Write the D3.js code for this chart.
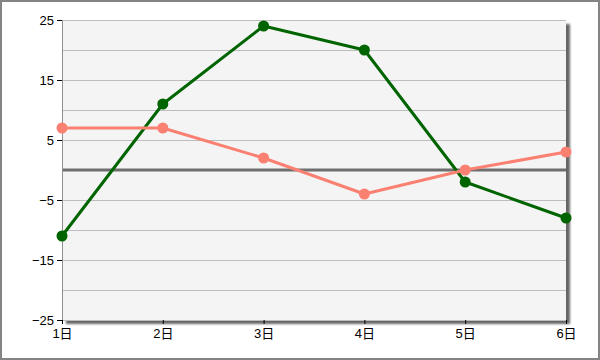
<!DOCTYPE html>
<html>
<head>
<meta charset="utf-8">
<script src="https://cdn.jsdelivr.net/npm/d3@7"></script>
<style>
  body { margin: 0; background: #fff; }
  svg { display: block; font-family: "Liberation Sans", Arial, sans-serif; }
</style>
</head>
<body>
<div id="chart"></div>
<script>
// chart data
var categories = ["1日", "2日", "3日", "4日", "5日", "6日"];
var greenValues = [-11, 11, 24, 20, -2, -8];
var salmonValues = [7, 7, 2, -4, 0, 3];
var yTicks = [25, 15, 5, -5, -15, -25];
var yGrid = d3.range(-25, 26, 5);

var W = 600, H = 360;
var margin = {top: 20, right: 34, bottom: 40, left: 62};
var width = W - margin.left - margin.right,
    height = H - margin.top - margin.bottom;

var svg = d3.select("#chart").append("svg")
    .attr("width", W)
    .attr("height", H);

// outer frame
svg.append("rect")
    .attr("x", 1).attr("y", 1)
    .attr("width", W - 2).attr("height", H - 2)
    .attr("fill", "#fff")
    .attr("stroke", "#848484")
    .attr("stroke-width", 2);

var defs = svg.append("defs");
var f = defs.append("filter").attr("id", "shadow")
    .attr("x", "-5%").attr("y", "-5%").attr("width", "115%").attr("height", "115%");
f.append("feGaussianBlur").attr("in", "SourceAlpha").attr("stdDeviation", 1.2).attr("result", "b");
f.append("feOffset").attr("in", "b").attr("dx", 4).attr("dy", 4).attr("result", "o");
f.append("feComponentTransfer").attr("in", "o").attr("result", "o2")
  .append("feFuncA").attr("type", "linear").attr("slope", 0.6);
var fm = f.append("feMerge");
fm.append("feMergeNode").attr("in", "o2");
fm.append("feMergeNode").attr("in", "SourceGraphic");

var g = svg.append("g").attr("transform", "translate(" + margin.left + "," + margin.top + ")");

var x = d3.scalePoint().domain(categories).range([0, width]);
var y = d3.scaleLinear().domain([-25, 25]).range([height, 0]);

// plot background with shadow
g.append("rect")
    .attr("width", width).attr("height", height)
    .attr("fill", "#f4f4f4")
    .attr("filter", "url(#shadow)");

// horizontal grid
g.selectAll(".grid").data(yGrid).enter().append("line")
    .attr("x1", 0).attr("x2", width)
    .attr("y1", function(d) { return y(d) + 0.5; })
    .attr("y2", function(d) { return y(d) + 0.5; })
    .attr("stroke", "#bdbdbd")
    .attr("stroke-width", 1);

// zero line
g.append("line")
    .attr("x1", 0).attr("x2", width)
    .attr("y1", y(0)).attr("y2", y(0))
    .attr("stroke", "#6e6e6e")
    .attr("stroke-width", 3);

// y axis
var yAxis = d3.axisLeft(y).tickValues(yTicks).tickSize(5).tickPadding(3);
var ya = g.append("g").call(yAxis);
ya.select(".domain").attr("stroke", "#909090");
ya.selectAll(".tick line").attr("stroke", "#000");
ya.selectAll("text").style("font-size", "13px").attr("fill", "#000")
    .style("font-family", "'Liberation Sans', Arial, sans-serif");

// x axis
var xAxis = d3.axisBottom(x).tickSize(4).tickPadding(5);
var xa = g.append("g").attr("transform", "translate(0," + height + ")").call(xAxis);
xa.select(".domain").remove();
xa.selectAll(".tick line").attr("stroke", "#000");
xa.selectAll("text").style("font-size", "13px").attr("fill", "#000")
    .style("font-family", "'Liberation Sans', 'Noto Sans CJK JP', Arial, sans-serif");

var line = d3.line()
    .x(function(d, i) { return x(categories[i]); })
    .y(function(d) { return y(d); });

function drawSeries(values, color) {
    g.append("path")
        .datum(values)
        .attr("fill", "none")
        .attr("stroke", color)
        .attr("stroke-width", 3)
        .attr("stroke-linejoin", "round")
        .attr("d", line);
    g.selectAll(null).data(values).enter().append("circle")
        .attr("cx", function(d, i) { return x(categories[i]); })
        .attr("cy", function(d) { return y(d); })
        .attr("r", 5.5)
        .attr("fill", color);
}

drawSeries(greenValues, "#006400");
drawSeries(salmonValues, "#fa8072");
</script>
</body>
</html>
